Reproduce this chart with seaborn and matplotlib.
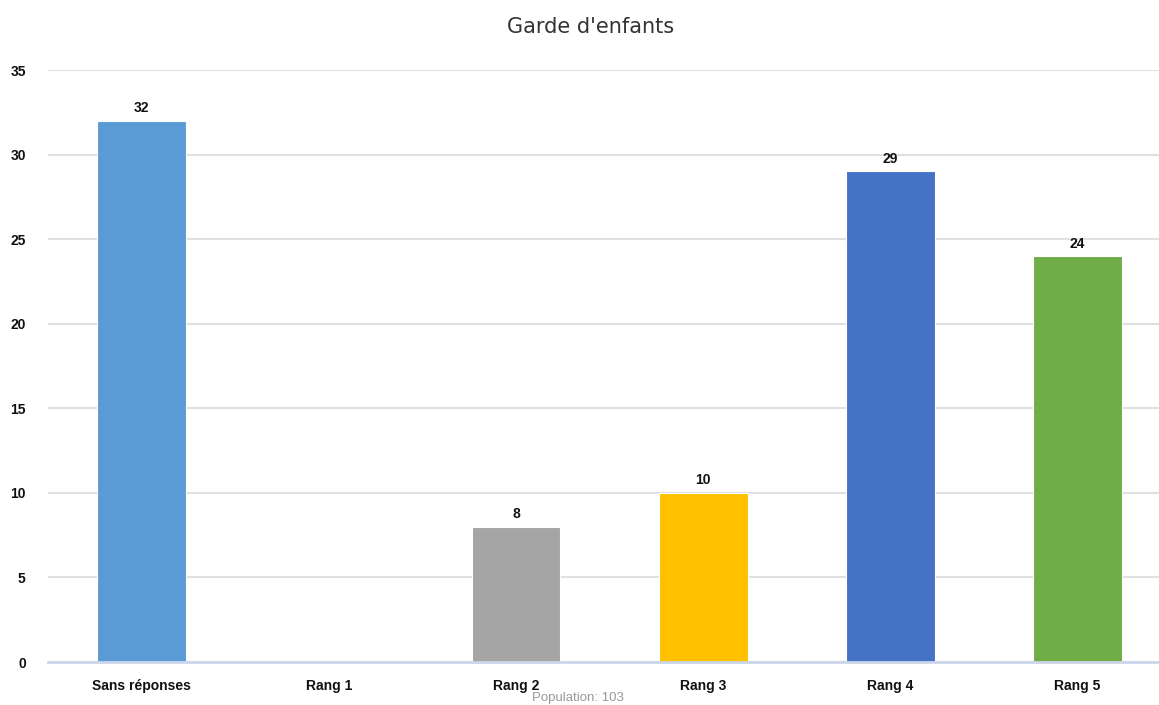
import matplotlib
matplotlib.use("Agg")
import matplotlib.pyplot as plt
import seaborn as sns
import pandas as pd

categories = ["Sans réponses", "Rang 1", "Rang 2", "Rang 3", "Rang 4", "Rang 5"]
values = [32, 0, 8, 10, 29, 24]
colors = ["#5B9BD5", "#ED7D31", "#A5A5A5", "#FFC000", "#4472C4", "#70AD47"]
title = "Garde d'enfants"
footer = "Population: 103"

sns.set_theme(style="white")
plt.rcParams['font.family'] = ['Liberation Sans', 'DejaVu Sans']

df = pd.DataFrame({"cat": categories, "val": values})

fig = plt.figure(figsize=(11.59, 7.05), dpi=100)
ax = fig.add_axes([48/1159, 1-662/705, 1-48/1159, (662-70)/705])

sns.barplot(data=df, x="cat", y="val", hue="cat", palette=colors, legend=False,
            width=0.475, ax=ax, saturation=1, edgecolor="white", linewidth=0.8)

ax.set_ylim(0, 35)
ax.set_xlim(-0.5, (1159-48)/187.2 - 0.5)
ax.set_yticks(range(0, 36, 5))
ax.yaxis.grid(True, color="#e0e0e0", linewidth=1.5)
ax.set_axisbelow(True)
for s in ["top", "right", "left"]:
    ax.spines[s].set_visible(False)
ax.spines["bottom"].set_color("#ccd6eb")
ax.spines["bottom"].set_linewidth(2)
ax.set_xlabel("")
ax.set_ylabel("")
ax.tick_params(axis="both", length=0, labelsize=10, labelcolor="#111111")
ax.tick_params(axis="x", pad=12)
ax.tick_params(axis="y", pad=16)
for lbl in ax.get_xticklabels() + ax.get_yticklabels():
    lbl.set_fontweight("bold")

for i, v in enumerate(values):
    if v > 0:
        ax.annotate(str(v), (i, v), xytext=(0, 4), textcoords="offset points",
                    ha="center", va="bottom", fontsize=10, fontweight="bold", color="#111111")

fig.text(591/1159, 1-27/705, title, ha="center", va="center", fontsize=15,
         color="#333333", family=["DejaVu Sans"])
fig.text(578/1159, 1-698/705, footer, ha="center", va="center", fontsize=9.5, color="#999999")

fig.savefig("out.png", dpi=100)
